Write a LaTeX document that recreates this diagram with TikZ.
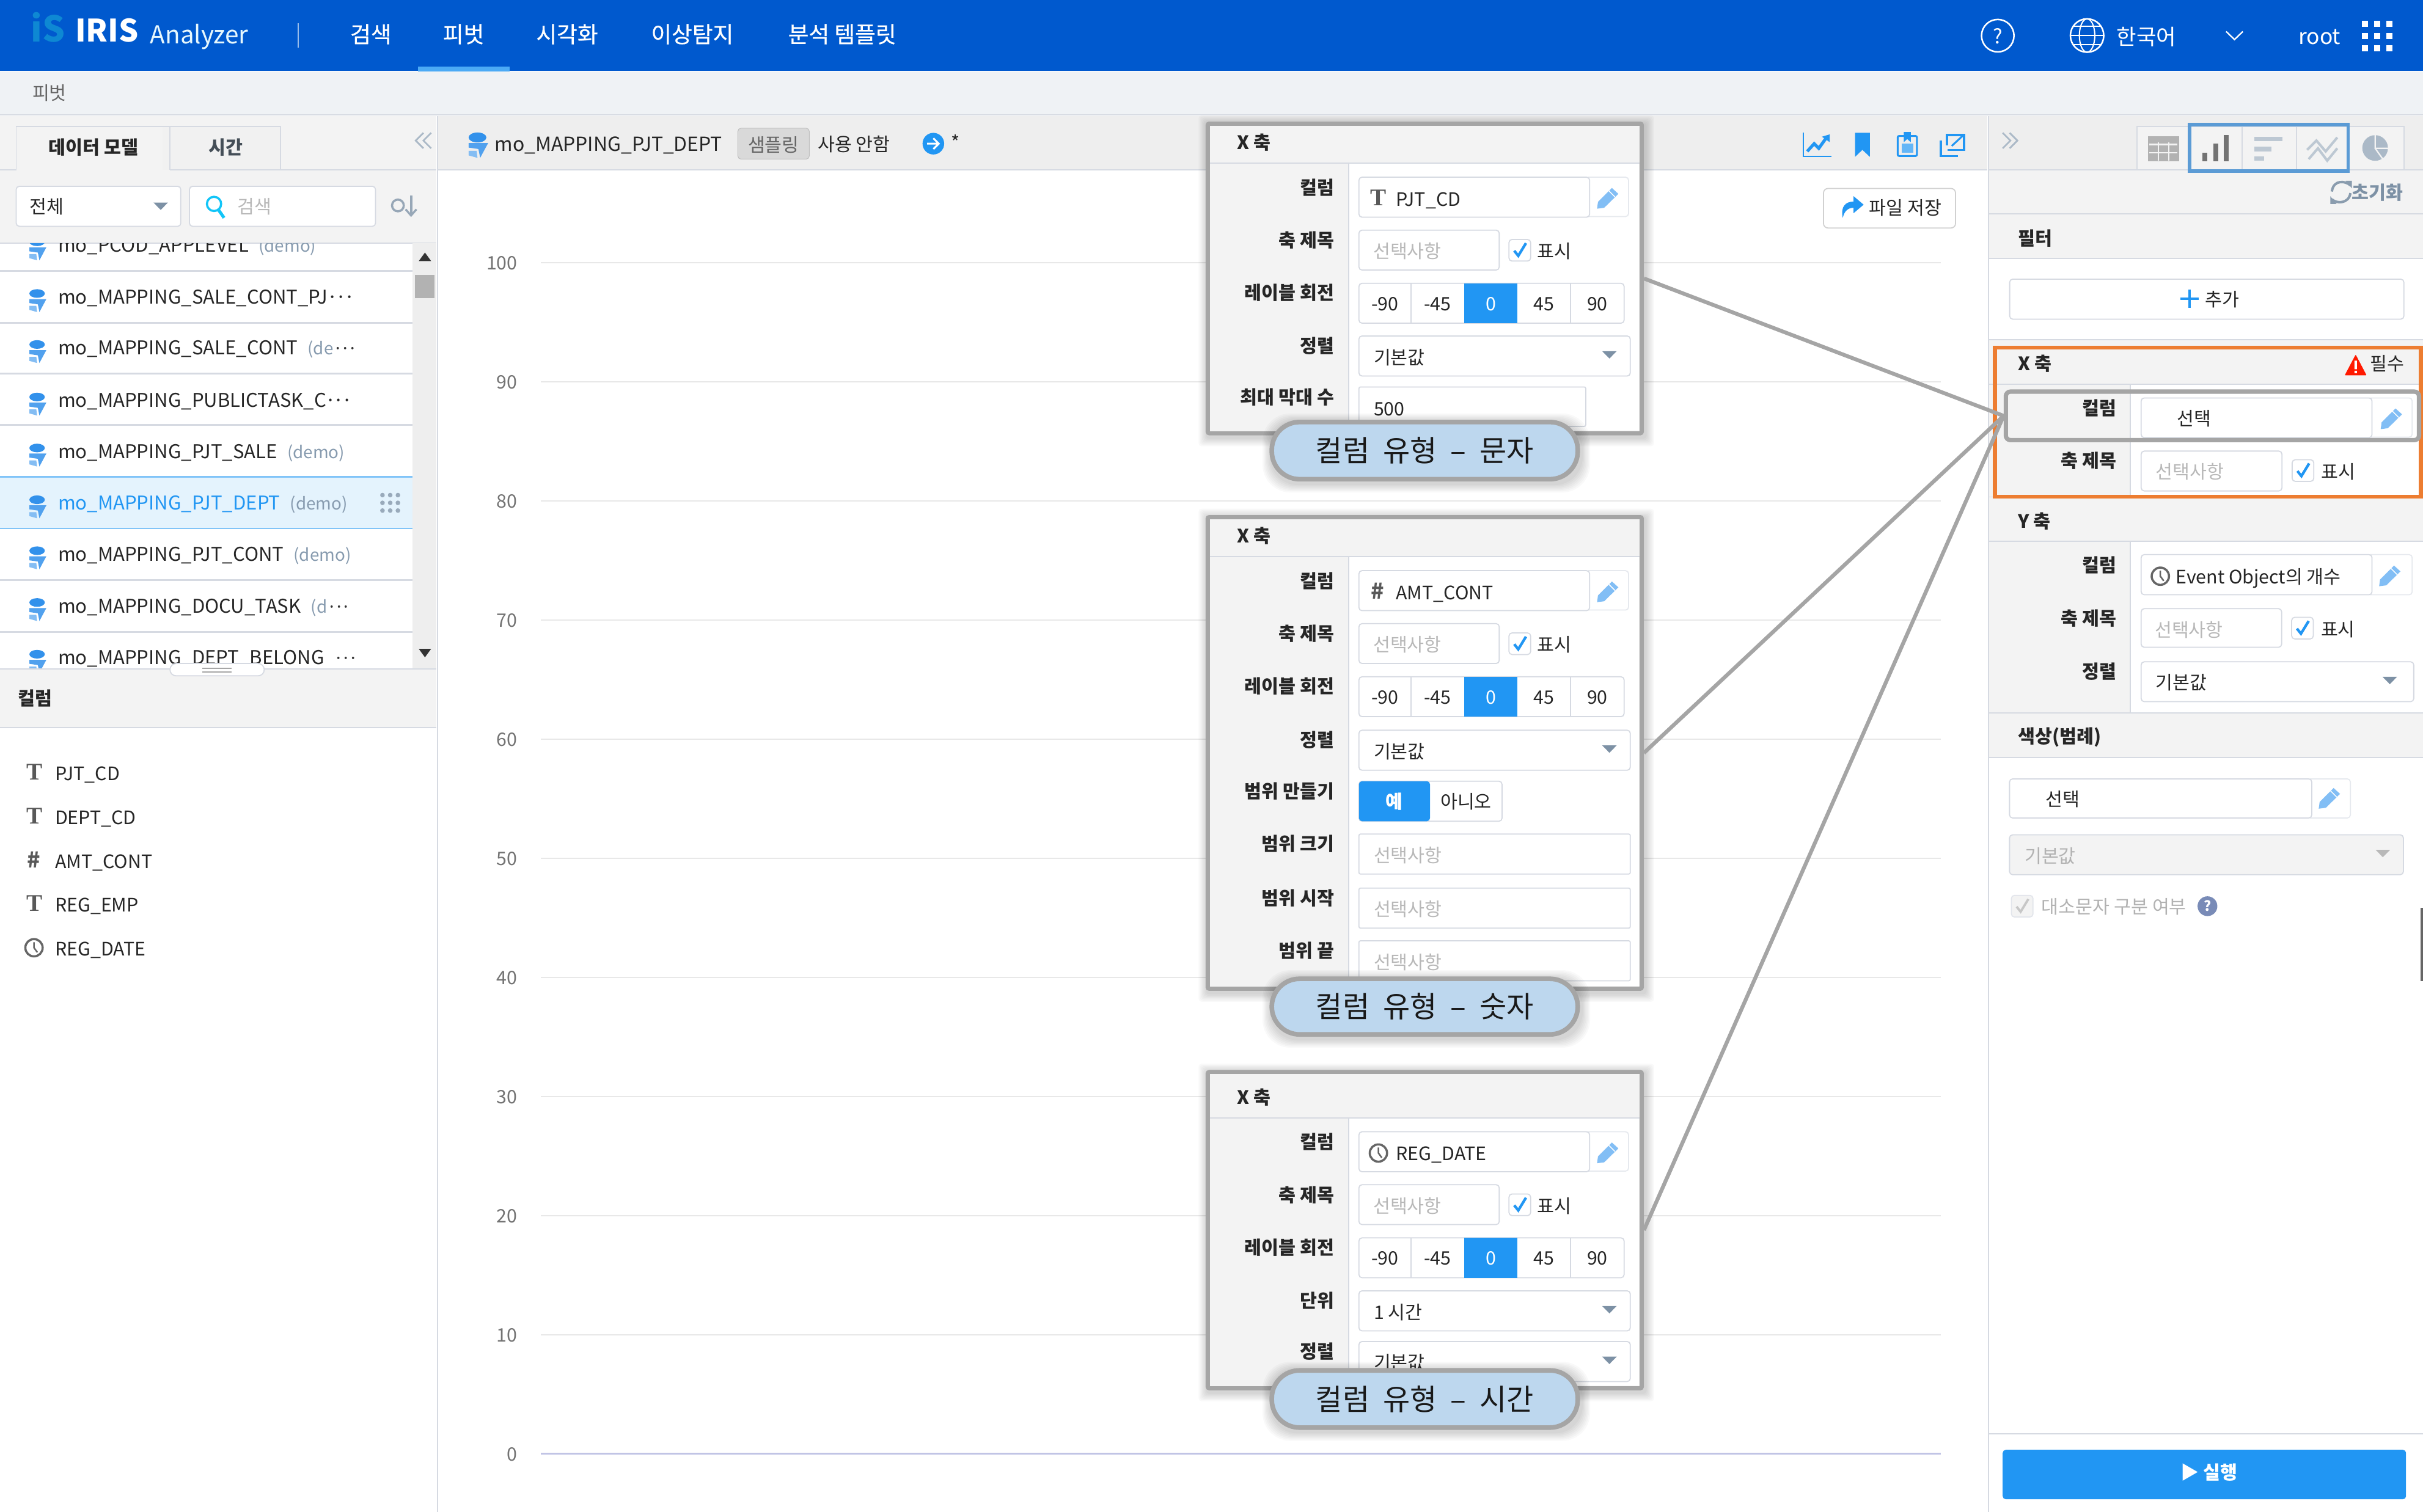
\documentclass[tikz,border=0pt]{standalone}
\usepackage{fontspec}
\setmainfont{Noto Sans CJK KR}
\newfontfamily\calloutfont[WordSpace=2.05]{Noto Sans CJK KR}
\newfontfamily\navfont[FakeBold=0.5]{Noto Sans CJK KR}
\newfontfamily\iconfont{Liberation Serif}
\usetikzlibrary{positioning}
\definecolor{topblue}{RGB}{0, 89, 206}
\definecolor{tabline}{RGB}{75, 170, 245}
\definecolor{subbg}{RGB}{239, 242, 245}
\definecolor{secbg}{RGB}{243, 243, 243}
\definecolor{headbg}{RGB}{238, 238, 238}
\definecolor{linecol}{RGB}{214, 218, 226}
\definecolor{gridcol}{RGB}{232, 232, 232}
\definecolor{accent}{RGB}{33, 150, 243}
\definecolor{pencil}{RGB}{130, 190, 245}
\definecolor{arrowgray}{RGB}{125, 145, 165}
\definecolor{framegray}{RGB}{165, 165, 165}
\definecolor{calloutblue}{RGB}{189, 215, 238}
\definecolor{orangebox}{RGB}{237, 125, 49}
\definecolor{bluebox}{RGB}{91, 155, 213}
\definecolor{demogray}{RGB}{135, 155, 175}
\definecolor{iconblue}{RGB}{50, 145, 235}

\tikzset{
  txtbase/.style={inner sep=0pt, text height=10pt, text depth=0.6pt,
    font=\fontsize{12}{14}\selectfont, text=black!85},
  lbl/.style={txtbase, anchor=east, font=\fontsize{12}{14}\selectfont\bfseries},
  sechead/.style={txtbase, anchor=west, font=\fontsize{12}{14}\selectfont\bfseries},
  val/.style={txtbase, anchor=west},
  listval/.style={val, font=\fontsize{12.3}{14}\selectfont},
  mid/.style={txtbase},
  ph/.style={txtbase, text=black!28},
  navitem/.style={txtbase, text=white, text height=12.6pt, text depth=1.4pt,
    font=\fontsize{14.5}{16}\navfont},
  demo/.style={txtbase, text=demogray, font=\fontsize{11}{14}\selectfont},
  ticon/.style={txtbase, text=black!65, font=\fontsize{15.5}{16}\iconfont\bfseries},
  hicon/.style={txtbase, text=black!65, font=\fontsize{14}{16}\selectfont\bfseries},
  field/.style={draw=linecol, fill=white, line width=0.7pt, rounded corners=2pt},
  softfield/.style={draw=linecol!60, fill=white, line width=0.7pt, rounded corners=2pt},
  pnlframe/.style={draw=framegray, fill=white, line width=2.8pt, rounded corners=1pt,
    minimum width=280.8pt, inner sep=0pt},
  callout/.style={draw=framegray, fill=calloutblue, line width=3pt, rounded corners=18pt,
    minimum width=198pt, inner sep=0pt, text=black!90,
    font=\fontsize{19}{21}\calloutfont},
  hlbox/.style={draw=framegray, line width=2.8pt, rounded corners=3pt, inner sep=0pt},
  linkline/.style={draw=framegray, line width=2.5pt},
  secline/.style={draw=linecol, line width=0.7pt}
}

\newcommand{\moredots}{·\kern-1.5pt·\kern-1.5pt·}

% small icons
\newcommand{\droparrow}[3][arrowgray]{\fill[#1] (#2-4.7,#3-2.4) -- (#2+4.7,#3-2.4) -- (#2,#3+2.4) -- cycle;}
\newcommand{\chkbox}[2]{%
  \draw[softfield, draw=linecol] (#1-7,#2-7) rectangle (#1+7,#2+7);
  \draw[accent, line width=1.7pt] (#1-3.6,#2+0.3) -- (#1-1,#2+3.6) -- (#1+4,#2-4.6);}
\newcommand{\clockicon}[2]{%
  \draw[black!60, line width=1.4pt] (#1,#2) circle (5.6pt);
  \draw[black!60, line width=1pt] (#1,#2-3.6) -- (#1,#2) -- (#1+2.2,#2+3);}
\newcommand{\pencilicon}[2]{%
  \fill[pencil] (#1-7,#2+7) -- (#1-6.4,#2+2.6) -- (#1+2.6,#2-6.4) -- (#1+6.8,#2-2.6) -- (#1-2.4,#2+6.4) -- cycle;
  \draw[white, line width=0.6pt] (#1+0.6,#2-4.6) -- (#1+4.6,#2-0.6);}
\newcommand{\dbicon}[3]{%
  \fill[iconblue] (#1,#2-4) ellipse (#3*5pt and #3*2.8pt);
  \fill[iconblue!85] (#1-#3*5,#2-0.4) -- (#1+#3*6,#2-0.4) -- (#1+#3*1.5,#2+#3*8) -- (#1+#3*0.5,#2+#3*3) -- (#1-#3*5,#2+#3*2.2) -- cycle;
  \fill[iconblue!60] (#1-#3*5,#2+#3*4) -- (#1-#3*0.5,#2+#3*4) -- (#1,#2+#3*8) -- (#1-#3*5,#2+#3*6.6) -- cycle;}
\newcommand{\softshadow}[5]{%
  \foreach \s in {0.8,1.6,...,6.4} {
    \fill[black, opacity=0.024, rounded corners=#5pt] (#1-\s+1,#2-\s+1.5) rectangle (#3+\s+1,#4+\s+1.5);
  }}

% rows of the X axis panels
\newcommand{\pnlselect}[4]{%
  \node[lbl] (#1l) at (863.5,#2+6.2) {#3};
  \draw[field] (879.4,#2) rectangle (1055,#2+25.9);
  \node[val] (#1v) at (888.8,#2+13.5) {#4};
  \droparrow{1041.5}{#2+12.2}}
\newcommand{\pnlinput}[4]{%
  \node[lbl] (#1l) at (863.5,#2+6.2) {#3};
  \draw[field, rounded corners=1pt] (879.4,#2) rectangle (1055,#2+25.9);
  \node[ph, anchor=west] (#1v) at (888.8,#2+13.5) {#4};}

\newcommand{\xpanel}[6]{%
  \softshadow{780.2}{#2}{1063.8}{#3}{2}
  \node[pnlframe, minimum height={(#3-#2-2.8)*1pt}] (#1) at (922,{(#2+#3)/2}) {};
  \fill[secbg] (783,#2+2.8) rectangle (1061,#4+27);
  \fill[secbg] (783,#4+27) rectangle (872.8,#3-2.8);
  \draw[secline] (783,#4+27) -- (1061,#4+27);
  \draw[secline] (872.8,#4+27) -- (872.8,#3-2.8);
  \begin{scope}[shift={(0,#4)}]
    \node[sechead] (#1head) at (800.4,13.4) {X 축};
    % column
    \node[lbl] (#1coll) at (863.5,42.5) {컬럼};
    \draw[softfield] (1026,36) rectangle (1053.9,61.5);
    \draw[field] (879.4,36) rectangle (1028.7,61.9);
    \pencilicon{1040.5}{49.4}
    #5
    \node[val] (#1colv) at (903.2,50) {#6};
    % axis title
    \node[lbl] (#1titl) at (863.5,76.7) {축 제목};
    \draw[field] (879.4,70.3) rectangle (970.2,96.1);
    \node[ph] (#1titv) at (910.7,83.7) {선택사항};
    \chkbox{983.5}{83.3}
    \node[mid] (#1show) at (1006,83.7) {표시};
    % label rotation
    \node[lbl] (#1rotl) at (863.5,110.7) {레이블 회전};
    \draw[field] (879.4,104.7) rectangle (1051,130.5);
    \fill[accent] (947.5,104.7) rectangle (982,130.5);
    \draw[secline] (913,104.7) -- (913,130.5);
    \draw[secline] (1016.4,104.7) -- (1016.4,130.5);
    \foreach \v/\cx/\idx in {-90/896.2/a, -45/930.2/b, 45/999.2/d, 90/1033.7/e} {
      \node[mid] (#1rot\idx) at (\cx,117.6) {\v};
    }
    \node[mid, text=white] (#1rotc) at (964.7,117.6) {0};
  \end{scope}}

% callout under a panel
\newcommand{\calloutbox}[4]{%
  \softshadow{821.6}{#2-#3/2-1.5}{1022.4}{#2+#3/2+1.5}{18}
  \node[callout, minimum height=#3 pt] (#1) at (922,#2) {#4};}

% one row of the model list
\newcommand{\listrow}[5][black!85]{%
  \dbicon{24}{#3+2}{1}
  \node[listval, text=#1] (#2) at (37.4,#3) {#4};
  \node[demo, anchor=west, right=6pt of #2] (#2d) {#5};}

\begin{document}
\begin{tikzpicture}[x=1pt, y=-1pt]
  \useasboundingbox (0,0) rectangle (1568,978.76);
  \fill[white] (0,0) rectangle (1568,978.76);

  % Top bar
  \fill[topblue] (0,0) rectangle (1568,46);
  \fill[tabline] (270.5,43) rectangle (330,46.3);
  \node[txtbase, text=cyan!70!blue, font=\fontsize{23}{24}\selectfont\bfseries] (logomark) at (31,22.5) {iS};
  \node[txtbase, text=white, font=\fontsize{20}{22}\selectfont\bfseries, anchor=west] (logoiris) at (48.5,22.5) {IRIS};
  \node[txtbase, text=white!90!cyan, font=\fontsize{16}{18}\selectfont, anchor=west] (logoname) at (97,23.5) {Analyzer};
  \draw[white!60!topblue, line width=0.7pt] (193,15) -- (193,31);
  \node[navitem] (navsearch) at (240,22) {검색};
  \node[navitem] (navpivot) at (300,22) {피벗};
  \node[navitem] (navvis) at (367,22) {시각화};
  \node[navitem] (navanom) at (448,22) {이상탐지};
  \node[navitem] (navtmpl) at (545,22) {분석 템플릿};
  % help, language, user
  \draw[white, line width=1pt] (1292.8,23.1) circle (10.5pt);
  \node[navitem, font=\fontsize{13}{14}\selectfont] (navhelp) at (1292.8,22.5) {?};
  \draw[white, line width=1pt] (1350.6,23) circle (10.8pt);
  \draw[white, line width=0.8pt] (1350.6,23) ellipse (5pt and 10.8pt);
  \draw[white, line width=0.8pt] (1339.8,23) -- (1361.4,23);
  \draw[white, line width=0.8pt] (1341.6,17) -- (1359.6,17);
  \draw[white, line width=0.8pt] (1341.6,29) -- (1359.6,29);
  \node[navitem, font=\fontsize{14}{15}\selectfont] (navlang) at (1389,23.5) {한국어};
  \draw[white, line width=0.9pt] (1440.6,20.4) -- (1446,25.6) -- (1451.4,20.4);
  \node[navitem, font=\fontsize{14}{15}\selectfont, text height=8pt, text depth=0pt] (navuser) at (1501,24.5) {root};
  \foreach \gx in {1530.3,1538.2,1546.1} {
    \foreach \gy in {15.5,23.3,31.1} {
      \fill[white] (\gx-2,\gy-2) rectangle (\gx+2,\gy+2);
    }
  }

  % Breadcrumb bar
  \fill[subbg] (0,46.3) rectangle (1568,74.5);
  \draw[secline] (0,74.5) -- (1568,74.5);
  \node[txtbase, text=black!60] (crumb) at (32,60) {피벗};

  % Left panel
  \fill[secbg] (0,75) rectangle (282.5,157.5);
  \fill[secbg!60!headbg] (105,82) -- (181.5,82) -- (181.5,110) -- (105,110) -- cycle;
  \draw[secline] (0,110) -- (10.5,110) -- (10.5,82) -- (181.5,82) -- (181.5,110) -- (282.5,110);
  \draw[secline] (110,82) -- (110,110);
  \draw[secline] (110,110) -- (181.5,110);
  \node[txtbase, font=\fontsize{12}{14}\selectfont\bfseries] (tabmodel) at (60.5,95) {데이터 모델};
  \node[txtbase, text=black!50!demogray, font=\fontsize{12}{14}\selectfont\bfseries] (tabtime) at (146,95) {시간};
  \draw[demogray!70, line width=1.1pt] (274,86) -- (269,91) -- (274,96) (279,86) -- (274,91) -- (279,96);
  % filter and search
  \draw[field] (10.5,120.6) rectangle (117,146.5);
  \node[val] (filtval) at (19,133.5) {전체};
  \droparrow{104}{133.5}
  \draw[field] (122.6,120.6) rectangle (243,146.5);
  \draw[accent!55!cyan, line width=1.4pt] (138.5,132) circle (4.6pt);
  \draw[accent!55!cyan, line width=2pt] (141.5,136) -- (145,141);
  \node[ph] (searchph) at (164.6,133.5) {검색};
  \draw[arrowgray!80, line width=1.4pt] (257.5,133) circle (3.8pt);
  \draw[arrowgray!80, line width=1.6pt] (266,126.5) -- (266,139);
  \draw[arrowgray!80, line width=1.3pt] (262.5,135.5) -- (266,139.5) -- (269.5,135.5);
  \draw[secline] (0,157.5) -- (282.5,157.5);

  % Model list
  \fill[headbg] (267,157.5) rectangle (282.5,433);
  \fill[black!30] (268.5,178) rectangle (281,193);
  \fill[black!80] (271,169) -- (279,169) -- (275,163.5) -- cycle;
  \fill[black!80] (271,420) -- (279,420) -- (275,425.5) -- cycle;
  \begin{scope}
    \clip (0,157.5) rectangle (267,433);
    \fill[accent!12] (0,308.6) rectangle (267,342);
    \foreach \sy in {175.5,209,242,275,375.5,409} {
      \draw[linecol, line width=1.2pt] (0,\sy) -- (267,\sy);
    }
    \draw[tabline!70, line width=1pt] (0,308.6) -- (267,308.6);
    \draw[tabline!70, line width=0.7pt] (0,342) -- (267,342);
    \listrow{rowa}{158.5}{mo\_PCOD\_APPLEVEL}{(demo)}
    \listrow{rowb}{192}{mo\_MAPPING\_SALE\_CONT\_PJ\moredots}{}
    \listrow{rowc}{225}{mo\_MAPPING\_SALE\_CONT}{(de{\color{black!80}\moredots}}
    \listrow{rowd}{259}{mo\_MAPPING\_PUBLICTASK\_C\moredots}{}
    \listrow{rowe}{292}{mo\_MAPPING\_PJT\_SALE}{(demo)}
    \listrow[accent]{rowf}{325.5}{mo\_MAPPING\_PJT\_DEPT}{(demo)}
    \listrow{rowg}{358.5}{mo\_MAPPING\_PJT\_CONT}{(demo)}
    \listrow{rowh}{392}{mo\_MAPPING\_DOCU\_TASK}{(d{\color{black!80}\moredots}}
    \listrow{rowi}{425.5}{mo\_MAPPING\_DEPT\_BELONG}{{\color{black!80}\moredots}}
    \foreach \gx in {247.5,252.5,257.5} {
      \foreach \gy in {320.5,325.5,330.5} {
        \fill[demogray!85] (\gx,\gy) circle (1.5pt);
      }
    }
  \end{scope}

  % Column list
  \fill[secbg] (0,433) rectangle (282.5,471);
  \draw[secline] (0,433) -- (282.5,433);
  \draw[secline] (0,471) -- (282.5,471);
  \draw[softfield, draw=linecol, rounded corners=4pt] (110,429.5) rectangle (171,437.5);
  \draw[black!35, line width=0.7pt] (131,432.6) -- (150,432.6) (131,435) -- (150,435);
  \node[sechead] (colhead) at (11.5,452) {컬럼};
  \node[ticon] (colaicon) at (22.5,500) {T};
  \node[val] (cola) at (35.4,500.5) {PJT\_CD};
  \node[ticon] (colbicon) at (22.5,528.5) {T};
  \node[val] (colb) at (35.4,529) {DEPT\_CD};
  \node[hicon] (colcicon) at (22,557) {\#};
  \node[val] (colc) at (35.4,557.5) {AMT\_CONT};
  \node[ticon] (coldicon) at (22.5,585) {T};
  \node[val] (cold) at (35.4,585.5) {REG\_EMP};
  \clockicon{22}{613.5}
  \node[val] (cole) at (35.4,614) {REG\_DATE};
  \draw[secline] (283,75) -- (283,978.76);

  % Chart header
  \fill[headbg] (283.5,75) rectangle (1286,110);
  \draw[secline] (283,110) -- (1286,110);
  \dbicon{309}{93}{1.15}
  \node[val, font=\fontsize{12.6}{14}\selectfont] (charttitle) at (320,93) {mo\_MAPPING\_PJT\_DEPT};
  \draw[draw=black!25, fill=black!15, rounded corners=2pt] (477.5,83) rectangle (523.7,103);
  \node[txtbase, text=black!60] (samplabel) at (500.6,93.5) {샘플링};
  \node[val] (sampval) at (529,93) {사용 안함};
  \fill[accent] (604,93) circle (7pt);
  \draw[white, line width=1.2pt] (600,93) -- (607,93) (604,89.5) -- (607.5,93) -- (604,96.5);
  \node[val] (chartstar) at (615.5,92) {*};
  % chart tools
  \draw[accent, line width=0.9pt] (1167,86) -- (1167,101.3) -- (1185,101.3);
  \draw[accent, line width=2pt] (1169.5,98) -- (1174,93) -- (1177,96) -- (1182,89);
  \fill[accent] (1179,88.5) -- (1184,87) -- (1184,92) -- cycle;
  \fill[accent] (1200.5,86) -- (1210,86) -- (1210,101.5) -- (1205.2,97) -- (1200.5,101.5) -- cycle;
  \draw[accent, line width=1.2pt, rounded corners=1pt] (1228,88) rectangle (1240.5,101);
  \fill[accent] (1232,85.5) -- (1236.5,85.5) -- (1236.5,92) -- (1234.2,90) -- (1232,92) -- cycle;
  \fill[accent!70] (1230.5,93) rectangle (1238,99);
  \draw[accent, line width=1.4pt] (1256,91) -- (1256,101) -- (1267,101) (1260,94) -- (1260,87.5) -- (1271,87.5) -- (1271,97) -- (1260.5,97);
  \draw[accent, line width=1.2pt] (1263,94.5) -- (1270,88);
  \draw[field, draw=black!18, rounded corners=3pt] (1180,122) rectangle (1265.5,147.6);
  \fill[accent] (1192.5,141) .. controls (1191,134) and (1194,130.5) .. (1199.5,130.5) -- (1199.5,127) -- (1206,132.5) -- (1199.5,138) -- (1199.5,134.5) .. controls (1196,134.5) and (1193.5,136.5) .. (1192.5,141) -- cycle;
  \node[mid] (savefile) at (1233,134.5) {파일 저장};

  % Chart grid
  \foreach \v in {1,...,10} {
    \draw[gridcol, line width=0.8pt] (350,941-\v*77.1) -- (1256,941-\v*77.1);
  }
  \draw[linecol!90!blue, line width=0.9pt] (350,941) -- (1256,941);
  \foreach \v in {0,...,10} {
    \pgfmathtruncatemacro{\tick}{\v*10}
    \node[txtbase, text=black!55, anchor=east] (ylab\v) at (335,941-\v*77.1) {\tick};
  }

  % Right panel
  \fill[headbg] (1287,75) rectangle (1568,110);
  \fill[secbg] (1287,110) rectangle (1568,167.3);
  \fill[secbg] (1287,220) rectangle (1568,248.6);
  \fill[secbg] (1287,248.6) rectangle (1378.6,321.7);
  \fill[secbg] (1287,321.7) rectangle (1568,350.5);
  \fill[secbg] (1287,350.5) rectangle (1378.6,461.5);
  \fill[secbg] (1287,461.5) rectangle (1568,490.3);
  \draw[secline] (1286.8,75) -- (1286.8,978.76);
  \foreach \sy in {110,138.5,167.3,220,248.6,321.7,350.5,461.5,490.3,928} {
    \draw[secline] (1287,\sy) -- (1568,\sy);
  }
  \draw[secline] (1378.6,248.6) -- (1378.6,321.7) (1378.6,350.5) -- (1378.6,461.5);
  \draw[demogray!70, line width=1.1pt] (1296,86) -- (1301,91) -- (1296,96) (1300.5,86) -- (1305.5,91) -- (1300.5,96);
  % chart type tabs
  \draw[secline, fill=secbg] (1383,82) rectangle (1555.6,110);
  \foreach \tx in {1417,1451,1486,1520} {
    \draw[secline] (\tx,82) -- (\tx,110);
  }
  \fill[black!30] (1390,88) rectangle (1410,104.5);
  \draw[secbg, line width=0.9pt] (1391,93.5) -- (1409,93.5) (1391,99) -- (1409,99) (1396.8,92) -- (1396.8,104) (1403.4,92) -- (1403.4,104);
  \draw[black!55, line width=3.2pt] (1426.7,104.4) -- (1426.7,98.8) (1433.8,104.4) -- (1433.8,93) (1440.6,104.4) -- (1440.6,87.4);
  \draw[demogray!55, line width=2.8pt] (1459,90) -- (1477,90) (1459,96.5) -- (1470,96.5) (1459,102.6) -- (1465,102.6);
  \draw[demogray!55, line width=1.6pt] (1493,97) -- (1499,91) -- (1505,98) -- (1512.5,89) (1494,103) -- (1500,96) -- (1506,104) -- (1512.5,96);
  \fill[demogray!70] (1537,95.8) circle (8.3pt);
  \draw[secbg, line width=0.9pt] (1537,87) -- (1537,96) -- (1546,96) (1537,96) -- (1542,103);
  \draw[bluebox, line width=2.2pt] (1417,80.6) rectangle (1519.5,110.8);
  % reset
  \draw[arrowgray!90, line width=1.6pt] (1509,124) .. controls (1510,116) and (1518,117) .. (1521,120) (1521,125) .. controls (1520,132) and (1512,132) .. (1509,129);
  \fill[arrowgray!90] (1518,117) -- (1522,117) -- (1522,122) -- cycle (1508,127) -- (1512,132) -- (1508,132) -- cycle;
  \node[txtbase, text=arrowgray, font=\fontsize{12}{14}\selectfont\bfseries] (resetbtn) at (1538.5,124.4) {초기화};
  % filter
  \node[sechead] (filtersec) at (1305.8,154) {필터};
  \draw[field] (1300.5,180.7) rectangle (1555.6,206.6);
  \draw[accent, line width=1.7pt] (1411,193.5) -- (1423,193.5) (1417,187.5) -- (1417,199.5);
  \node[mid] (addbtn) at (1438,193.8) {추가};
  % x axis
  \node[sechead] (xsec) at (1305.8,235) {X 축};
  \fill[red!80!orange, rounded corners=0.5pt] (1524.4,229.5) -- (1531.5,243) -- (1517.3,243) -- cycle;
  \fill[white] (1523.6,233.5) rectangle (1525.2,239) (1523.6,240) rectangle (1525.2,241.6);
  \node[mid] (xreq) at (1545,235) {필수};
  \node[lbl] (xcoll) at (1369.7,264) {컬럼};
  \draw[softfield] (1532,257.6) rectangle (1561,283);
  \draw[field] (1385.6,257.6) rectangle (1535,283.3);
  \pencilicon{1547.6}{270.8}
  \node[mid] (xcolv) at (1419.7,270.8) {선택};
  \node[lbl] (xtitl) at (1369.7,298) {축 제목};
  \draw[field] (1385.6,292) rectangle (1476.7,317.8);
  \node[ph] (xtitv) at (1417,305) {선택사항};
  \chkbox{1490.3}{304.6}
  \node[mid] (xshow) at (1513.3,305) {표시};
  % y axis
  \node[sechead] (ysec) at (1305.8,337) {Y 축};
  \node[lbl] (ycoll) at (1369.7,365.6) {컬럼};
  \draw[softfield] (1532,359) rectangle (1561,385);
  \draw[field] (1385.6,359) rectangle (1535,385);
  \pencilicon{1546.6}{372.5}
  \clockicon{1398}{373}
  \node[val] (ycolv) at (1407.8,373) {Event Object의 개수};
  \node[lbl] (ytitl) at (1369.7,400) {축 제목};
  \draw[field] (1385.6,394) rectangle (1476.5,419);
  \node[ph] (ytitv) at (1416.5,407.5) {선택사항};
  \chkbox{1490}{406.6}
  \node[mid] (yshow) at (1513,407) {표시};
  \node[lbl] (ysortl) at (1369.7,434.6) {정렬};
  \draw[field] (1385.6,428.4) rectangle (1562,454.2);
  \node[val] (ysortv) at (1394.7,441.7) {기본값};
  \droparrow{1546.5}{440.5}
  % colour legend
  \node[sechead] (legsec) at (1305.8,476.5) {색상(범례)};
  \draw[softfield] (1493,504.2) rectangle (1521,529.5);
  \draw[field] (1300.4,504.2) rectangle (1496,529.5);
  \pencilicon{1507.5}{516.5}
  \node[mid] (legcol) at (1334.7,517) {선택};
  \draw[field, fill=secbg] (1300.4,540.4) rectangle (1555.3,566.2);
  \node[ph, anchor=west, text=black!30] (legsort) at (1310,553.7) {기본값};
  \droparrow[black!28]{1542}{552.5}
  \draw[field, fill=secbg, draw=linecol!70] (1301.6,579.6) rectangle (1315.6,593.6);
  \draw[black!22, line width=1.5pt] (1305,586.9) -- (1307.6,590.2) -- (1312.6,582);
  \node[ph, anchor=west, text=black!30] (legcase) at (1321,586.8) {대소문자 구분 여부};
  \fill[demogray!90!blue] (1428.5,586.6) circle (6.4pt);
  \node[txtbase, text=white, font=\fontsize{9}{10}\selectfont\bfseries, text height=6.5pt, text depth=0pt] (leghelp) at (1428.5,586.6) {?};
  \fill[black!60] (1566.2,587.6) rectangle (1568,635);
  % run
  \fill[accent, rounded corners=2pt] (1296,938.5) rectangle (1557,970.5);
  \node[mid, text=white, font=\fontsize{12}{14}\selectfont\bfseries] (runbtn) at (1429.5,953) {▶ 실행};

  % Highlight boxes
  \draw[orangebox, line width=2.6pt] (1291,225) rectangle (1566.5,321.5);
  \node[hlbox, minimum width=267.4pt, minimum height=31.4pt] (hlcol) at (1431.7,269.2) {};

  % Text column
  \xpanel{pnlstr}{78.7}{281.8}{78.7}{\node[ticon] (pnlstrt) at (892,49.5) {T};}{PJT\_CD}
  \pnlselect{pnlstrs}{217.5}{정렬}{기본값}
  \node[lbl] (pnlstrml) at (863.5,256.8) {최대 막대 수};
  \draw[field, rounded corners=1pt] (879.4,250.5) rectangle (1026.2,276);
  \node[val] (pnlstrmv) at (888.8,264.4) {500};
  \calloutbox{calstr}{291.7}{37}{컬럼 유형 – 문자}

  % Number column
  \xpanel{pnlnum}{333.4}{641.4}{333.4}{\node[hicon] (pnlnumt) at (891.5,49.5) {\#};}{AMT\_CONT}
  \pnlselect{pnlnums}{472.7}{정렬}{기본값}
  \node[lbl] (pnlnumrl) at (863.5,512) {범위 만들기};
  \draw[field] (879.4,505.7) rectangle (972,531.6);
  \fill[accent, rounded corners=2pt] (879.4,505.7) rectangle (925.4,531.6);
  \node[mid, text=white, font=\fontsize{12}{14}\selectfont\bfseries] (pnlnumyes) at (902.4,518.8) {예};
  \node[mid] (pnlnumno) at (948.7,518.8) {아니오};
  \pnlinput{pnlnumb}{539.9}{범위 크기}{선택사항}
  \pnlinput{pnlnumc}{574.9}{범위 시작}{선택사항}
  \pnlinput{pnlnumd}{609}{범위 끝}{선택사항}
  \calloutbox{calnum}{651.6}{36}{컬럼 유형 – 숫자}

  % Time column
  \xpanel{pnltim}{692.6}{900}{696.6}{\clockicon{892}{49.8}}{REG\_DATE}
  \pnlselect{pnltimu}{835.6}{단위}{1 시간}
  \pnlselect{pnltims}{868.4}{정렬}{기본값}
  \calloutbox{caltim}{905.6}{37}{컬럼 유형 – 시간}

  % Connectors
  \draw[linkline] (pnlstr.east) -- (hlcol.west);
  \draw[linkline] (pnlnum.east) -- (hlcol.west);
  \draw[linkline] (pnltim.east) -- (hlcol.west);
\end{tikzpicture}
\end{document}
